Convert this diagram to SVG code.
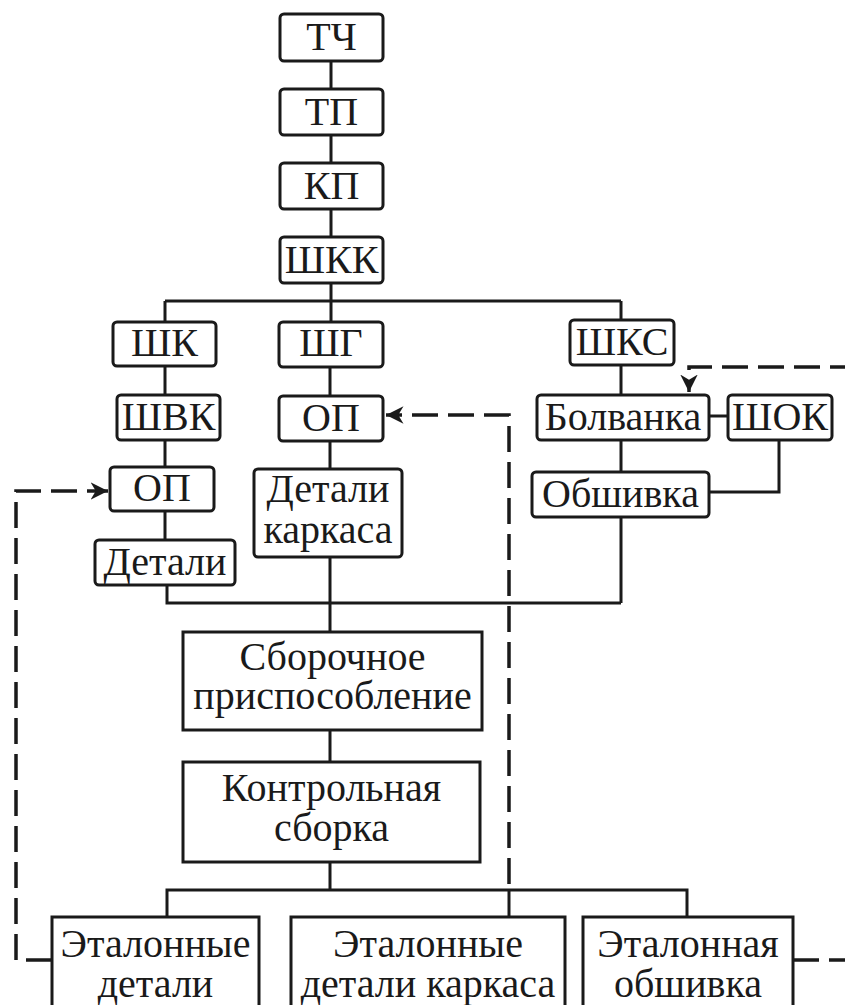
<svg xmlns="http://www.w3.org/2000/svg" width="845" height="1005" viewBox="0 0 845 1005">
<style>
.b{fill:#fff;stroke:#1a1a1a;stroke-width:3}
text{font-family:'Liberation Serif','Times New Roman','DejaVu Serif',serif;font-size:40px;fill:#1a1a1a;text-anchor:middle}
.c{fill:none;stroke:#1a1a1a;stroke-width:3}
.d{fill:none;stroke:#1a1a1a;stroke-width:3.5;stroke-dasharray:26 10}
</style>
<defs>
<marker id="ah" viewBox="0 0 10 10" refX="10" refY="5" markerWidth="5" markerHeight="5" markerUnits="strokeWidth" orient="auto">
<path d="M0,0 L10,5 L0,10 L3,5 z" fill="#1a1a1a"/>
</marker>
</defs>
<rect width="845" height="1005" fill="#fff"/>
<g id="connectors">
<path class="c" d="M331,61 V322"/>
<path class="c" d="M165,301 H621"/>
<path class="c" d="M165,301 V322 M165,366 V540"/>
<path class="c" d="M330,367 V396 M330,441 V469 M330,557 V632 M330,730 V762 M330,862 V890"/>
<path class="c" d="M621,301 V320 M621,365 V472 M621,517 V603"/>
<path class="c" d="M167,585 V603 H621"/>
<path class="c" d="M709,416 H728"/>
<path class="c" d="M779,440 V492 H709"/>
<path class="c" d="M167,917 V890 H687 V917 M509,890 V917"/>
<path class="d" d="M509,884 V415 H386" marker-end="url(#ah)"/>
<path class="d" d="M52,960 H16 V491 H108" marker-end="url(#ah)"/>
<path class="d" d="M793,960 H852 V367 H689 V392" marker-end="url(#ah)"/>
</g>
<g id="n_tch"><rect class="b" x="280" y="14" width="103" height="47" rx="4"/><text font-family="Liberation Serif, serif" x="331.5" y="50">ТЧ</text></g>
<g id="n_tp"><rect class="b" x="280" y="89" width="103" height="46" rx="4"/><text x="331.5" y="125">ТП</text></g>
<g id="n_kp"><rect class="b" x="280" y="163" width="103" height="46" rx="4"/><text x="331.5" y="199">КП</text></g>
<g id="n_shkk"><rect class="b" x="280" y="237" width="103" height="46" rx="4"/><text x="331.5" y="273">ШКК</text></g>
<g id="n_shk"><rect class="b" x="113" y="322" width="103" height="44" rx="4"/><text x="164.5" y="356">ШК</text></g>
<g id="n_shg"><rect class="b" x="279" y="322" width="104" height="45" rx="4"/><text x="331" y="356">ШГ</text></g>
<g id="n_shks"><rect class="b" x="570" y="320" width="104" height="45" rx="4"/><text x="622" y="355">ШКС</text></g>
<g id="n_shvk"><rect class="b" x="117" y="395" width="103" height="45" rx="4"/><text x="168.5" y="430">ШВК</text></g>
<g id="n_op2"><rect class="b" x="279" y="396" width="104" height="45" rx="4"/><text x="331" y="431">ОП</text></g>
<g id="n_op1"><rect class="b" x="110" y="467" width="104" height="44" rx="4"/><text x="162" y="501">ОП</text></g>
<g id="n_dk"><rect class="b" x="254" y="469" width="148" height="88" rx="4"/><text x="328" y="502">Детали</text><text x="328" y="543">каркаса</text></g>
<g id="n_det"><rect class="b" x="95" y="540" width="140" height="45" rx="4"/><text x="165" y="575">Детали</text></g>
<g id="n_bolv"><rect class="b" x="537" y="395" width="172" height="45" rx="4"/><text x="623" y="430">Болванка</text></g>
<g id="n_shok"><rect class="b" x="728" y="395" width="104" height="45" rx="4"/><text x="780" y="430">ШОК</text></g>
<g id="n_obsh"><rect class="b" x="532" y="472" width="177" height="45" rx="4"/><text x="620.5" y="507">Обшивка</text></g>
<g id="n_sbor"><rect class="b" x="183" y="632" width="299" height="98"/><text x="332.5" y="670">Сборочное</text><text x="332.5" y="709">приспособление</text></g>
<g id="n_kontr"><rect class="b" x="183" y="762" width="297" height="100"/><text x="331.5" y="801">Контрольная</text><text x="331.5" y="841">сборка</text></g>
<g id="n_ed"><rect class="b" x="52" y="917" width="207" height="100"/><text x="155.5" y="957">Эталонные</text><text x="155.5" y="997">детали</text></g>
<g id="n_edk"><rect class="b" x="291" y="917" width="274" height="100"/><text x="428" y="957">Эталонные</text><text x="428" y="997">детали каркаса</text></g>
<g id="n_eo"><rect class="b" x="583" y="917" width="210" height="100"/><text x="688" y="957">Эталонная</text><text x="688" y="997">обшивка</text></g>
</svg>
